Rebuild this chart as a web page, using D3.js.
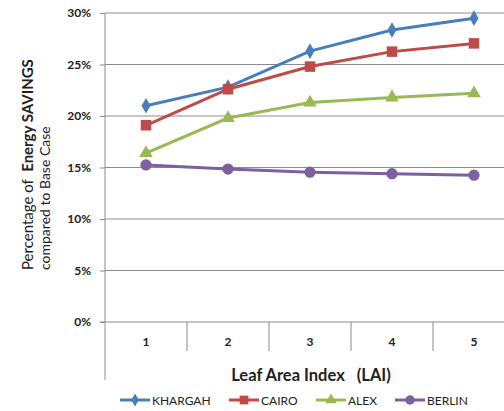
<!DOCTYPE html>
<html>
<head>
<meta charset="utf-8">
<script src="https://cdn.jsdelivr.net/npm/d3@7"></script>
<style>
  body { margin: 0; background: #fff; }
  svg { font-family: Lato, "Open Sans", sans-serif; }
</style>
</head>
<body>
<svg id="chart" width="504" height="411"></svg>
<script>
// values
const lai = [1, 2, 3, 4, 5]
const khargah = [21.0, 22.8, 26.3, 28.35, 29.5]
const cairo = [19.1, 22.6, 24.8, 26.25, 27.05]
const alex = [16.4, 19.8, 21.3, 21.8, 22.2]
const berlin = [15.25, 14.85, 14.55, 14.4, 14.25]
const yTicks = [0, 5, 10, 15, 20, 25, 30]

const series = [
  { name: 'KHARGAH', values: khargah, color: '#4A7EBB', symbol: d3.symbolDiamond, size: 70 },
  { name: 'CAIRO', values: cairo, color: '#BE4B48', symbol: d3.symbolSquare, size: 110 },
  { name: 'ALEX', values: alex, color: '#98B954', symbol: d3.symbolTriangle, size: 80 },
  { name: 'BERLIN', values: berlin, color: '#7D60A0', symbol: d3.symbolCircle, size: 100 }
]

const margin = { top: 13, left: 105 }
const width = 410, height = 309

const svg = d3.select('#chart')
const chart = svg.append('g')
  .attr('transform', `translate(${margin.left}, ${margin.top})`)

const x = d3.scaleBand().domain(lai).range([0, width])
const y = d3.scaleLinear().domain([0, 30]).range([height, 0])

// horizontal gridlines
chart.append('g')
  .selectAll('line')
  .data(yTicks.filter(d => d > 0))
  .join('line')
    .attr('x1', 0).attr('x2', width)
    .attr('y1', d => y(d)).attr('y2', d => y(d))
    .attr('stroke', '#8c8c8c').attr('stroke-width', 1)

// y axis
const yAxis = chart.append('g')
  .call(d3.axisLeft(y).tickValues(yTicks).tickFormat(d => d + '%').tickSize(5).tickPadding(9))
yAxis.select('.domain').remove()
yAxis.selectAll('line').attr('stroke', '#8c8c8c')
yAxis.selectAll('text')
  .attr('font-size', 12).attr('font-weight', 'bold').attr('fill', '#222')
  .attr('font-family', 'Lato, sans-serif')

// long left axis line, reaching down past the category labels
chart.append('line')
  .attr('x1', 0).attr('x2', 0)
  .attr('y1', 0).attr('y2', 367)
  .attr('stroke', '#8c8c8c')

// x axis line and category separators
chart.append('line')
  .attr('x1', -5).attr('x2', width)
  .attr('y1', height).attr('y2', height)
  .attr('stroke', '#8c8c8c')

chart.append('g')
  .selectAll('line')
  .data(lai.slice(1))
  .join('line')
    .attr('x1', d => x(d)).attr('x2', d => x(d))
    .attr('y1', height).attr('y2', height + 29)
    .attr('stroke', '#8c8c8c')

chart.append('g')
  .selectAll('text')
  .data(lai)
  .join('text')
    .attr('x', d => x(d) + x.bandwidth() / 2)
    .attr('y', height + 24)
    .attr('text-anchor', 'middle')
    .attr('font-size', 12).attr('font-weight', 'bold').attr('fill', '#222')
    .text(d => d)

// series lines and markers
const line = d3.line()
  .x((d, i) => x(lai[i]) + x.bandwidth() / 2)
  .y(d => y(d))

series.forEach(s => {
  chart.append('path')
    .datum(s.values)
    .attr('fill', 'none')
    .attr('stroke', s.color)
    .attr('stroke-width', 3)
    .attr('d', line)

  chart.append('g')
    .selectAll('path')
    .data(s.values)
    .join('path')
      .attr('transform', (d, i) => `translate(${x(lai[i]) + x.bandwidth() / 2}, ${y(d)})`)
      .attr('d', d3.symbol().type(s.symbol).size(s.size))
      .attr('fill', s.color)
})

// axis titles
svg.append('text')
  .attr('x', 311).attr('y', 381)
  .attr('text-anchor', 'middle')
  .attr('font-size', 16.5).attr('font-weight', 'bold').attr('fill', '#222')
  .attr('xml:space', 'preserve')
  .text('Leaf Area Index   (LAI)')

const yTitle = svg.append('text')
  .attr('transform', 'translate(33, 270) rotate(-90)')
  .attr('font-size', 15).attr('fill', '#222')
  .attr('xml:space', 'preserve')
yTitle.append('tspan').text('Percentage of  ')
yTitle.append('tspan').attr('font-weight', 'bold').text('Energy SAVINGS')

svg.append('text')
  .attr('transform', 'translate(50, 270) rotate(-90)')
  .attr('font-size', 14).attr('fill', '#222')
  .text('compared to Base Case')

// legend
const legendX = [120, 229, 316, 395]
const legend = svg.append('g')
  .selectAll('g')
  .data(series)
  .join('g')
    .attr('transform', (d, i) => `translate(${legendX[i]}, 400)`)

legend.append('line')
  .attr('x1', 0).attr('x2', 30)
  .attr('stroke', d => d.color).attr('stroke-width', 3)
legend.append('path')
  .attr('transform', 'translate(15, 0)')
  .attr('d', d => d3.symbol().type(d.symbol).size(d.size * 0.7)())
  .attr('fill', d => d.color)
legend.append('text')
  .attr('x', 32).attr('y', 4.5)
  .attr('font-size', 12).attr('fill', '#222')
  .text(d => d.name)
</script>
</body>
</html>
